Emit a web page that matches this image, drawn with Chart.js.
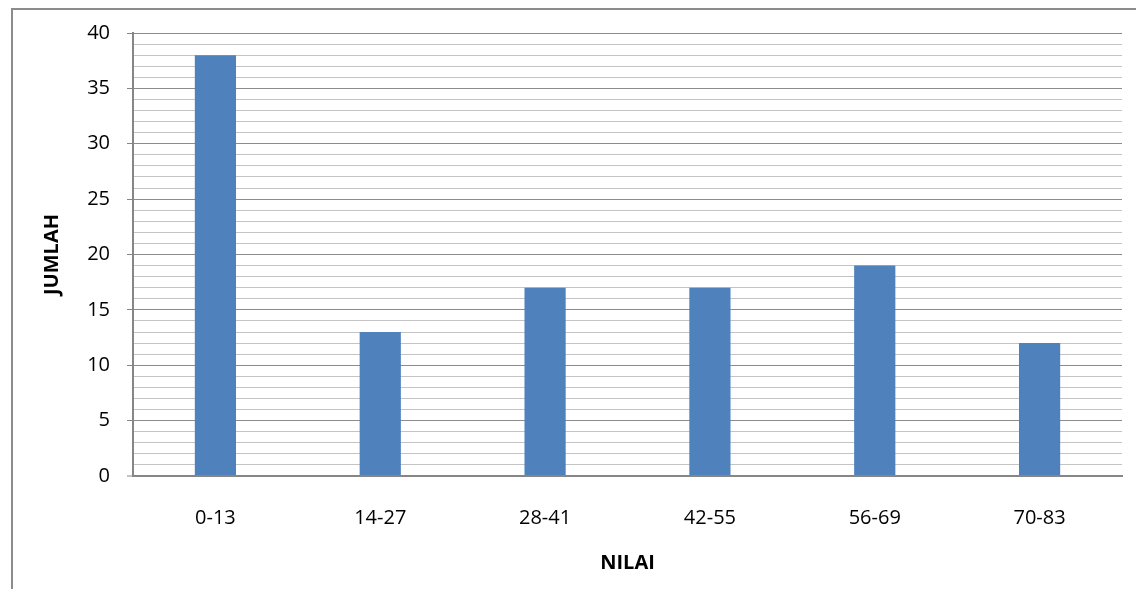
<!DOCTYPE html>
<html>
<head>
<meta charset="utf-8">
<script src="https://cdn.jsdelivr.net/npm/chart.js@4/dist/chart.umd.min.js"></script>
<style>
  html, body { margin: 0; padding: 0; background: #fff; overflow: hidden; }
  #wrap { position: relative; width: 1136px; height: 589px; }
  #frame { position: absolute; left: 11px; top: 8px; width: 1200px; height: 700px;
           border: 2px solid #8c8c8c; box-sizing: border-box; }
  canvas { position: absolute; left: 0; top: 0; }
</style>
</head>
<body>
<div id="wrap">
  <div id="frame"></div>
  <canvas id="c" width="1136" height="589"></canvas>
</div>
<script>
// Score ranges and how many entries fall in each
const categories = ['0-13', '14-27', '28-41', '42-55', '56-69', '70-83'];
const counts = [38, 13, 17, 17, 19, 12];
const yTickLabels = [0, 5, 10, 15, 20, 25, 30, 35, 40];
const xTitle = 'NILAI';
const yTitle = 'JUMLAH';

const FONT = "'Open Sans', 'Liberation Sans', sans-serif";
const isMajor = v => yTickLabels.includes(v);

new Chart(document.getElementById('c'), {
  type: 'bar',
  data: {
    labels: categories,
    datasets: [{
      data: counts,
      backgroundColor: '#4f81bd',
      borderWidth: 0,
      barPercentage: 0.25,
      categoryPercentage: 1.0
    }]
  },
  options: {
    responsive: false,
    animation: false,
    layout: { padding: { left: 40, top: 33, right: 14, bottom: 0 } },
    plugins: { legend: { display: false }, tooltip: { enabled: false } },
    scales: {
      x: {
        grid: { display: false },
        border: { display: true, color: '#868686', width: 2 },
        ticks: { color: '#000', font: { family: FONT, size: 20 }, padding: 22, maxRotation: 0 },
        title: { display: true, text: xTitle, color: '#000',
                 font: { family: FONT, size: 20, weight: 'bold' }, padding: { top: 0, bottom: 14 } },
        afterFit: s => { s.height = 589 - 476; }
      },
      y: {
        min: 0,
        max: 40,
        ticks: {
          stepSize: 1,
          autoSkip: false,
          maxTicksLimit: 100,
          padding: 17,
          color: '#000',
          font: { family: FONT, size: 20 },
          callback: v => (isMajor(v) ? String(v) : '')
        },
        grid: {
          drawTicks: true,
          tickLength: 6,
          lineWidth: c => (c.tick && c.tick.value === 0 ? 2 : 1),
          color: c => {
            const v = c.tick ? c.tick.value : 1;
            if (v === 0) return '#868686';
            return isMajor(v) ? '#8c8c8c' : '#c4c4c4';
          },
          tickColor: c => (c.tick && isMajor(c.tick.value) ? '#868686' : 'rgba(0,0,0,0)'),
          tickWidth: 1
        },
        border: { display: true, color: '#868686', width: 2 },
        title: { display: true, text: yTitle, color: '#000',
                 font: { family: FONT, size: 20, weight: 'bold' }, padding: { top: 0, bottom: 0 } },
        afterFit: s => { s.width = 133 - 40; }
      }
    }
  }
});
</script>
</body>
</html>
